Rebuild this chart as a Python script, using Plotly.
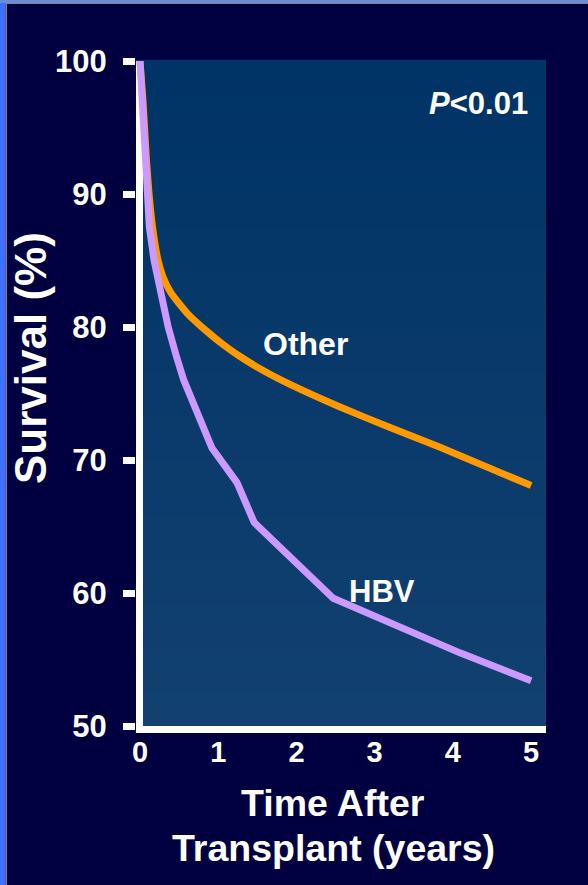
import plotly.graph_objects as go

# Survival curves after transplant, by indication
other_years = [0.0, 0.038, 0.058, 0.083, 0.115, 0.16, 0.23, 0.294, 0.396, 0.601, 0.857,
               1.087, 1.279, 1.598, 1.918, 2.558, 3.197, 3.836, 5.0]
other_surv = [100.0, 97.07, 95.04, 92.56, 90.08, 87.52, 85.04, 83.76, 82.56, 81.05, 79.66,
              78.57, 77.78, 76.65, 75.68, 73.98, 72.44, 70.95, 68.08]

hbv_years = [0.0, 0.026, 0.038, 0.058, 0.083, 0.12, 0.18, 0.26, 0.36, 0.47, 0.56, 0.92, 1.24, 1.46, 2.47, 4.09, 5.0]
hbv_surv = [100.0, 97.1, 95.0, 92.6, 90.1, 87.5, 85.0, 82.6, 80.0, 77.7, 76.0, 70.9, 68.3, 65.3, 59.6, 55.5, 53.4]

x_ticks = [0, 1, 2, 3, 4, 5]
y_ticks = [50, 60, 70, 80, 90, 100]

FONT = "Liberation Sans, Arial, sans-serif"
PAGE_BG = "#000040"
ORANGE = "#FF9900"
LILAC = "#CC99FF"

W, H = 588, 885
L, R, T, B = 136, 42, 61, 159
PW, PH = W - L - R, H - T - B


def fx(px):
    """page pixel column -> paper x"""
    return (px - L) / PW


def fy(py):
    """page pixel row -> paper y"""
    return (H - B - py) / PH


fig = go.Figure()

fig.add_trace(go.Scatter(
    x=other_years, y=other_surv, mode="lines",
    line=dict(color=ORANGE, width=7, shape="spline", smoothing=0.5),
    hoverinfo="skip", showlegend=False,
))
fig.add_trace(go.Scatter(
    x=hbv_years, y=hbv_surv, mode="lines",
    line=dict(color=LILAC, width=7),
    hoverinfo="skip", showlegend=False,
))

# vertical gradient behind the plotting area
top_rgb = (0, 51, 102)
bot_rgb = (18, 65, 112)
n_bands = 60
shapes = []
for i in range(n_bands):
    t = i / (n_bands - 1)
    r, g, b = (round(bot_rgb[k] + (top_rgb[k] - bot_rgb[k]) * t) for k in range(3))
    shapes.append(dict(
        type="rect", xref="x domain", yref="y domain",
        x0=0, x1=1, y0=i / n_bands, y1=(i + 1) / n_bands + 0.002,
        fillcolor=f"rgb({r},{g},{b})", line=dict(width=0), layer="below",
    ))

# slide frame on the left and top edges
shapes += [
    dict(type="rect", xref="paper", yref="paper", x0=fx(0), x1=fx(5.5),
         y0=fy(H), y1=fy(0), fillcolor="#3F6FFF", line=dict(width=0), layer="above"),
    dict(type="rect", xref="paper", yref="paper", x0=fx(5.5), x1=fx(7),
         y0=fy(H), y1=fy(3), fillcolor="#7C8498", line=dict(width=0), layer="above"),
    dict(type="rect", xref="paper", yref="paper", x0=fx(0), x1=fx(W),
         y0=fy(3), y1=fy(0), fillcolor="#6A8BD6", line=dict(width=0), layer="above"),
    dict(type="rect", xref="paper", yref="paper", x0=fx(5.5), x1=fx(W),
         y0=fy(4), y1=fy(3), fillcolor="#7C8498", line=dict(width=0), layer="above"),
]


def white_bold(s):
    return dict(family=FONT, size=s, color="white", weight="bold")


annotations = [
    dict(x=2.12, y=78.7, xref="x", yref="y", text="Other", showarrow=False,
         xanchor="center", yanchor="middle", font=white_bold(32)),
    dict(x=3.09, y=60.1, xref="x", yref="y", text="HBV", showarrow=False,
         xanchor="center", yanchor="middle", font=white_bold(31)),
    dict(x=fx(478), y=fy(104), xref="paper", yref="paper", text="<i>P</i>&lt;0.01",
         showarrow=False, xanchor="center", yanchor="middle", font=white_bold(31)),
    # x-axis title, two lines
    dict(x=fx(333), y=fy(803), xref="paper", yref="paper",
         text="Time After", showarrow=False,
         xanchor="center", yanchor="middle", font=white_bold(37.5)),
    dict(x=fx(333), y=fy(848), xref="paper", yref="paper",
         text="Transplant (years)", showarrow=False,
         xanchor="center", yanchor="middle", font=white_bold(37.5)),
    # y-axis title
    dict(x=fx(30), y=fy(358), xref="paper", yref="paper",
         text="Survival (%)", textangle=-90, showarrow=False,
         xanchor="center", yanchor="middle", font=white_bold(44)),
]

fig.update_layout(
    width=W, height=H,
    margin=dict(l=L, r=R, t=T, b=B),
    paper_bgcolor=PAGE_BG,
    plot_bgcolor="#0A3A68",
    shapes=shapes,
    annotations=annotations,
    xaxis=dict(
        range=[-0.051, 5.19], tickvals=x_ticks, ticks="",
        showline=True, linewidth=7, linecolor="white",
        showgrid=False,
        zeroline=True, zerolinecolor="white", zerolinewidth=7,
        tickfont=white_bold(29), ticklabelstandoff=-6,
    ),
    yaxis=dict(
        range=[50, 100], tickvals=y_ticks, ticks="outside",
        ticklen=12, tickwidth=7, tickcolor="white",
        showline=False, showgrid=False, zeroline=False,
        tickfont=white_bold(31), ticklabelstandoff=10,
    ),
)

fig.write_html("out.html")
